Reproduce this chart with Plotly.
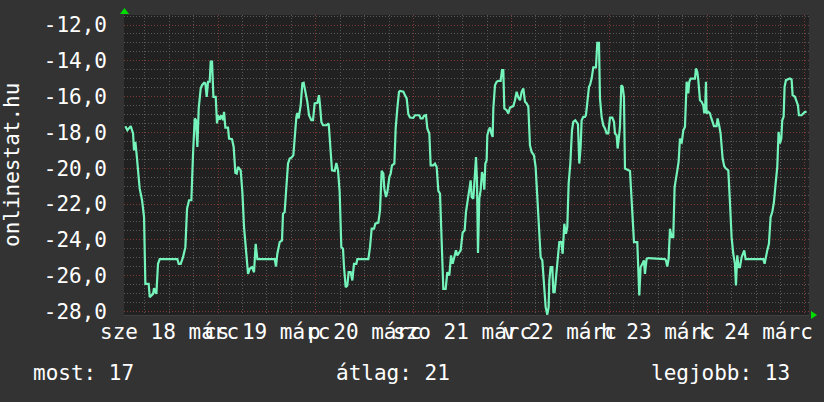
import plotly.graph_objects as go
from datetime import datetime, timedelta

# ---- data (hours since 2020-03-18 00:00, value) ----
hours = [
    1.27, 1.76, 2.58, 3.15, 3.39, 3.72, 3.97, 4.38, 4.78, 5.36, 5.85, 6.17, 6.99, 7.24, 8.06, 8.3, 8.87, 9.28, 9.69,
    14.02, 14.35, 14.84, 15.41, 15.99, 16.4, 16.89, 17.46, 17.87, 18.28, 18.6, 18.93, 19.26, 19.75, 20.08, 20.57,
    20.89, 21.22, 21.55, 21.96, 22.2, 22.53, 22.86, 23.43, 23.75, 24.0, 24.41, 24.82, 25.23, 25.47, 25.8, 26.45,
    26.7, 27.43, 27.84, 28.25, 28.58, 28.9, 29.56, 29.97, 30.38, 30.87, 31.36, 31.77, 32.34, 32.83, 33.24, 33.65,
    37.9, 38.23, 38.55, 39.13, 39.7, 39.94, 40.35, 40.68, 41.17, 41.58, 41.99, 42.48, 42.81, 43.22, 43.46, 43.79,
    44.28, 44.69, 45.01, 45.42, 45.91, 46.32, 46.89, 47.3, 47.71, 48.37, 48.77, 49.02, 49.35, 49.76, 50.57, 51.15,
    51.47, 51.96, 52.62, 53.03, 53.44, 53.84, 54.25, 54.66, 54.91, 55.32, 55.72, 56.05, 56.54, 56.95, 57.36, 57.93,
    58.18, 60.88, 61.29, 61.7, 62.27, 62.59, 63.33, 63.74, 64.15, 64.56, 64.8, 65.21, 65.54, 66.03, 66.36, 66.68,
    67.26, 67.58, 67.99, 68.4, 68.65, 69.46, 69.87, 70.28, 70.69, 71.1, 71.92, 72.32, 73.39, 73.71, 74.2, 74.53,
    75.02, 75.35, 75.84, 76.17, 76.82, 77.23, 77.64, 78.05, 78.46, 78.87, 79.27, 79.85, 80.26, 80.75, 81.16, 81.56,
    81.89, 82.38, 82.71, 83.04, 83.53, 84.02, 84.51, 84.83, 85.24, 85.57, 85.98, 86.22, 86.63, 86.88, 87.29, 87.53,
    87.78, 88.1, 88.43, 88.76, 89.09, 89.33, 89.58, 89.9, 90.07, 90.39, 90.72, 91.05, 91.38, 91.54, 91.95, 92.36,
    92.77, 93.34, 93.67, 93.99, 94.24, 94.81, 95.22, 95.63, 96.45, 96.85, 97.26, 97.67, 98.08, 98.49, 98.9, 99.31,
    99.72, 100.13, 100.53, 100.94, 101.51, 101.92, 102.33, 102.74, 103.15, 103.56, 103.97, 104.38, 104.79, 105.11,
    105.28, 105.6, 106.01, 106.26, 106.58, 106.91, 107.24, 107.73, 108.22, 108.55, 108.96, 109.36, 109.69, 110.02,
    110.43, 110.84, 111.16, 111.65, 112.31, 112.63, 112.96, 113.21, 113.62, 114.03, 114.27, 114.6, 115.01, 115.25,
    115.66, 116.07, 116.72, 117.05, 117.46, 117.71, 118.11, 118.52, 118.93, 119.34, 119.75, 120.16, 120.73, 121.14,
    121.39, 121.79, 122.04, 122.37, 122.61, 122.94, 123.27, 123.59, 123.84, 125.07, 125.47, 125.72, 126.05, 126.86,
    127.11, 127.35, 127.68, 128.17, 128.5, 128.74, 129.15, 129.56, 133.65, 133.9, 134.22, 134.55, 134.88, 135.29,
    135.69, 136.02, 136.35, 136.68, 137.0, 137.33, 137.74, 138.15, 138.56, 138.97, 139.37, 139.62, 139.95, 141.01,
    141.25, 141.58, 141.83, 142.24, 142.64, 143.05, 143.3, 143.54, 143.71, 143.87, 144.28, 144.69, 144.93, 145.26,
    145.67, 146.32, 146.57, 146.98, 147.3, 147.8, 148.2, 148.61, 149.19, 149.59, 150.0, 150.41, 150.82, 151.07,
    151.39, 151.72, 152.05, 152.46, 152.87, 153.11, 153.44, 157.77, 158.1, 158.43, 158.75, 159.16, 159.57, 159.98,
    160.39, 160.8, 161.21, 161.53, 161.86, 162.19, 162.43, 162.76, 163.0, 163.33, 163.9, 164.31, 164.72, 164.97,
    165.54, 165.95, 166.27, 166.52, 167.17, 167.58, 167.99, 168.4,
]
values = [
    -17.65, -17.88, -17.65, -18.06, -19.0, -18.53, -19.09, -20.3, -21.14, -21.79, -22.73, -26.46, -26.46, -27.21,
    -27.02, -26.7, -27.02, -25.34, -25.08,
    -25.08, -25.34, -25.34, -24.97, -24.41, -22.26, -21.79, -21.79, -19.18, -17.22, -17.32, -18.81, -16.66, -15.54,
    -15.36, -15.23, -15.26, -16.01, -15.17, -15.17, -14.05, -14.05, -16.01, -16.01, -17.5, -17.04, -17.28, -17.04,
    -17.32, -16.85, -17.73, -17.73, -18.34, -18.38, -18.81, -20.26, -20.3, -19.93, -20.12, -21.33, -23.29, -24.78,
    -25.9, -25.62, -25.53, -25.81, -24.22, -25.08,
    -25.08, -25.49, -24.78, -24.13, -24.03, -22.54, -22.45, -21.33, -19.74, -19.46, -19.41, -19.28, -18.06, -17.13,
    -16.91, -17.22, -16.48, -15.26, -15.23, -15.73, -16.29, -17.04, -17.32, -17.32, -16.38, -16.35, -15.92, -16.48,
    -17.41, -17.6, -17.6, -17.5, -18.44, -20.12, -20.15, -19.71, -20.12, -21.33, -24.41, -24.5, -25.53, -26.65,
    -26.55, -25.81, -25.81, -26.27, -25.34, -25.34,
    -25.08, -25.08, -24.41, -23.38, -23.38, -23.1, -23.04, -22.35, -20.15, -20.3, -21.14, -21.61, -21.33, -20.49,
    -20.3, -19.84, -19.74, -17.78, -16.66, -15.73, -15.68, -15.73, -15.92, -16.1, -16.98, -17.17, -17.19, -17.04,
    -17.04, -17.22, -17.22, -17.07, -17.04, -17.78, -18.06, -19.84, -19.84, -19.74, -19.93, -21.27, -21.42, -24.22,
    -26.74, -26.74, -25.81, -25.99, -24.87, -25.34, -24.97, -24.59, -24.87, -24.78, -24.59, -23.59, -23.47, -22.45,
    -21.89, -21.42, -20.68, -21.61, -21.7, -20.86, -19.37, -20.68, -24.74, -21.7, -21.24, -20.21, -20.49, -21.2,
    -19.74, -19.56, -18.16, -17.88, -17.73, -18.06, -18.25, -16.66, -15.36, -15.17, -15.12, -15.12, -14.52, -14.52,
    -16.66, -16.76, -16.94, -16.61, -16.53, -16.2, -15.73, -16.05, -16.2, -15.73, -15.54, -16.29, -16.38, -16.57,
    -18.72, -19.09, -19.28, -19.93, -21.79, -23.29, -24.97, -25.15, -26.55, -27.76, -28.18, -27.76, -26.27, -25.53,
    -25.53, -26.93, -26.93, -26.09, -24.97, -24.13, -24.13, -24.78, -23.1, -23.66, -23.29, -20.86, -19.74, -17.88,
    -17.41, -17.32, -17.54, -19.74, -18.81, -17.32, -17.13, -17.13, -17.04, -16.2, -15.45, -15.36,
    -14.99, -14.37, -14.37, -12.99, -12.99, -16.1, -17.13, -17.6, -17.78, -18.06, -18.06, -17.17, -17.17, -17.41,
    -18.06, -18.16, -18.9, -18.25, -17.69, -15.36, -15.45, -16.01, -20.02, -20.15, -21.89, -23.29, -24.13, -24.13,
    -25.99, -27.11, -25.53, -25.25, -25.15, -25.9, -25.06, -25.02, -25.08, -25.15, -25.49, -25.06, -23.38, -23.85,
    -23.85, -21.05, -20.68, -20.12, -19.65, -18.34, -18.62, -17.88, -17.69, -15.17, -15.82, -15.17, -14.99, -14.99,
    -14.43, -14.61, -15.08, -16.2, -16.29, -16.48, -16.94, -16.48, -15.17, -16.94, -16.85, -16.94, -17.13, -17.32,
    -17.65, -17.65, -17.22, -17.65, -18.06, -19.46, -19.89, -20.02, -20.12, -21.89, -23.85, -24.78, -25.34, -26.55,
    -24.87, -25.53, -25.53, -24.97, -24.78, -24.59, -25.08, -25.08, -25.34, -24.87, -24.59, -24.22, -22.73, -22.45,
    -21.89, -20.86, -19.93, -17.97, -18.62, -18.34, -17.32, -17.13, -15.45, -15.08, -15.04, -14.99, -15.04, -15.92,
    -16.01, -16.29, -16.48, -17.04, -17.04, -16.94, -16.85, -16.85,
]

y_tick_vals = [-28, -26, -24, -22, -20, -18, -16, -14, -12]
y_tick_text = ["-28,0", "-26,0", "-24,0", "-22,0", "-20,0", "-18,0", "-16,0", "-14,0", "-12,0"]
day_dates = ["2020-03-18", "2020-03-19", "2020-03-20", "2020-03-21", "2020-03-22", "2020-03-23", "2020-03-24"]
day_labels = ["sze 18 márc", "cs 19 márc", "p 20 márc", "szo 21 márc", "v 22 márc", "h 23 márc", "k 24 márc"]
y_title = "onlinestat.hu"
stat_texts = ["most: 17", "átlag: 21", "legjobb: 13"]

base = datetime(2020, 3, 18)
times = [base + timedelta(hours=h) for h in hours]

FONT = "DejaVu Sans Mono"
FS = 21
LINE = "#74f4ba"
BG = "#333333"
PLOT_BG = "#212121"

fig = go.Figure()
fig.add_trace(go.Scatter(x=times, y=values, mode="lines",
                         line=dict(color=LINE, width=2.2), hoverinfo="skip", showlegend=False))

fig.update_layout(
    width=824, height=402,
    margin=dict(l=124, r=15, t=15, b=87),
    paper_bgcolor=BG, plot_bgcolor=PLOT_BG,
    font=dict(family=FONT, size=FS, color="#ffffff"),
    showlegend=False,
)

fig.update_xaxes(
    range=[base + timedelta(hours=0.93), base + timedelta(hours=168.99)],
    type="date",
    tick0="2020-03-18", dtick=86400000,
    showticklabels=False, ticks="",
    showgrid=True, gridcolor="#7e3838", griddash="1px,2px", gridwidth=1,
    minor=dict(tick0="2020-03-18", dtick=21600000, showgrid=True,
               gridcolor="#585858", griddash="1px,2px", gridwidth=1),
    showline=True, linecolor="#404040", linewidth=1,
    zeroline=False,
)
fig.update_yaxes(
    range=[-28.2, -11.44],
    tickmode="array", tickvals=y_tick_vals, ticktext=y_tick_text,
    ticks="", ticklabelstandoff=16,
    tickfont=dict(family=FONT, size=FS, color="#ffffff"),
    showgrid=True, gridcolor="#7e3838", griddash="1px,2px", gridwidth=1,
    minor=dict(tick0=-28, dtick=0.5, showgrid=True,
               gridcolor="#585858", griddash="1px,2px", gridwidth=1),
    zeroline=False, showline=False,
)

annotations = []
for d, lab in zip(day_dates, day_labels):
    annotations.append(dict(x=d + " 12:00", y=-0.057, xref="x", yref="paper",
                            text=lab, showarrow=False, xanchor="center", yanchor="middle",
                            font=dict(family=FONT, size=FS, color="#ffffff")))
annotations.append(dict(x=-0.1635, y=0.5, xref="paper", yref="paper", text=y_title,
                        textangle=-90, showarrow=False, xanchor="center", yanchor="middle",
                        font=dict(family=FONT, size=FS, color="#ffffff")))
stat_x = [-0.1355, 0.306, 0.766]
for sx, st in zip(stat_x, stat_texts):
    annotations.append(dict(x=sx, y=-0.193, xref="paper", yref="paper", text=st,
                            showarrow=False, xanchor="left", yanchor="middle",
                            font=dict(family=FONT, size=FS, color="#ffffff")))
fig.update_layout(annotations=annotations)

# axis arrows (decoration)
fig.update_layout(shapes=[
    dict(type="path", xref="paper", yref="paper",
         path="M -0.0058 1.0033 L 0.0073 1.0033 L 0.0007 1.0233 Z",
         fillcolor="#00dd00", line=dict(width=0)),
    dict(type="path", xref="paper", yref="paper",
         path="M 1.0029 0.0133 L 1.0029 -0.0133 L 1.0117 0 Z",
         fillcolor="#00dd00", line=dict(width=0)),
])

fig.write_html("out.html", config={"displayModeBar": False},
               post_script="document.body.style.margin='0';")
